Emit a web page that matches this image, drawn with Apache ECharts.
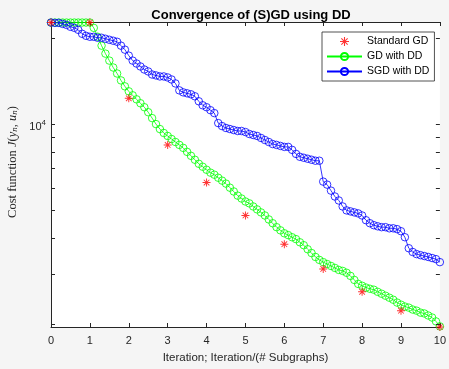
<!DOCTYPE html>
<html>
<head>
<meta charset="utf-8">
<script src="https://cdn.jsdelivr.net/npm/echarts@6/dist/echarts.min.js"></script>
<style>
  html, body { margin: 0; padding: 0; background: #f5f5f5; }
  #chart { width: 449px; height: 369px; }
</style>
</head>
<body>
<div id="chart"></div>
<script>
// iteration grid (0, 0.1, ... 10) for the DD runs
const iterations = Array.from({ length: 101 }, (_, i) => +(i / 10).toFixed(1))
const stdIterations = [0, 1, 2, 3, 4, 5, 6, 7, 8, 9, 10]

const standardGD = [22600, 22600, 12300, 8460, 6250, 4800, 3810, 3125, 2600, 2235, 1960]

const gdWithDD = [
  22600, 22600, 22600, 22600, 22600, 22600, 22600, 22600, 22600, 22600,
  22600, 21660, 20160, 18770, 17610, 16650, 15750, 15010, 14200, 13540,
  13010, 12600, 12200, 11820, 11450, 11000, 10490, 10000, 9610, 9310,
  9090, 8870, 8660, 8460, 8260, 8000, 7750, 7510, 7270, 7100,
  6930, 6770, 6660, 6500, 6350, 6200, 6000, 5820, 5630, 5500,
  5370, 5290, 5160, 5040, 4920, 4800, 4650, 4510, 4370, 4260,
  4160, 4100, 4030, 3970, 3870, 3780, 3660, 3550, 3440, 3360,
  3300, 3250, 3200, 3150, 3100, 3075, 3030, 2955, 2860, 2770,
  2730, 2690, 2665, 2645, 2600, 2560, 2520, 2480, 2440, 2385,
  2345, 2310, 2290, 2255, 2235, 2200, 2185, 2150, 2115, 2050,
  1970
]

const sgdWithDD = [
  22600, 22540, 22540, 22360, 22180, 21840, 21660, 21320, 20650, 20320,
  20160, 20160, 20000, 20000, 19840, 19680, 19530, 19370, 18770, 18180,
  17330, 16650, 16260, 15880, 15500, 15260, 14890, 14780, 14660, 14660,
  14540, 14310, 13860, 13110, 12900, 12800, 12700, 12500, 12010, 11630,
  11450, 11180, 10920, 10080, 9840, 9690, 9610, 9530, 9460, 9460,
  9380, 9235, 9160, 9090, 8945, 8800, 8660, 8520, 8460, 8390,
  8325, 8325, 8130, 7870, 7690, 7630, 7570, 7510, 7450, 7450,
  6300, 6150, 5860, 5590, 5415, 5160, 5000, 4960, 4920, 4880,
  4800, 4620, 4510, 4440, 4400, 4370, 4370, 4330, 4330, 4300,
  4230, 4030, 3690, 3580, 3520, 3490, 3465, 3440, 3410, 3380,
  3300
]

const yTicks = [2000, 3000, 4000, 5000, 6000, 7000, 8000, 9000, 10000, 20000]
const yMin = 1960
const yMax = 22700

const axisColor = '#262626'
const sans = 'Liberation Sans, Arial, Helvetica, sans-serif'
const serif = 'Liberation Serif, Times New Roman, serif'

// MATLAB style '*' marker
const starPath = 'path://M4.4 0L5.6 0L5.6 10L4.4 10Z M0 4.4L10 4.4L10 5.6L0 5.6Z M1.1 1.9L1.9 1.1L8.9 8.1L8.1 8.9Z M8.1 1.1L8.9 1.9L1.9 8.9L1.1 8.1Z'

const chart = echarts.init(document.getElementById('chart'))

const baseX = {
  type: 'value',
  min: 0,
  max: 10,
  interval: 1,
  splitLine: { show: false },
  axisLine: { show: true, onZero: false, lineStyle: { color: axisColor, width: 1 } },
  axisTick: { show: true, inside: true, length: 4, lineStyle: { color: axisColor } }
}

chart.setOption({
  animation: false,
  title: {
    text: 'Convergence of (S)GD using DD',
    left: 246,
    top: 4,
    textAlign: 'center',
    textStyle: { fontFamily: sans, fontSize: 13, fontWeight: 'bold', color: '#000' }
  },
  legend: {
    data: ['Standard GD', 'GD with DD', 'SGD with DD'],
    orient: 'vertical',
    left: 322,
    top: 32,
    itemWidth: 35,
    itemHeight: 9,
    itemGap: 4,
    padding: [4, 5, 4, 4],
    borderColor: axisColor,
    borderWidth: 0.8,
    backgroundColor: '#fff',
    textStyle: { fontFamily: sans, fontSize: 10.5, color: '#000' }
  },
  grid: {
    left: 51,
    right: 7,
    top: 22,
    bottom: 40,
    show: true,
    backgroundColor: '#fff',
    borderWidth: 0
  },
  xAxis: [
    Object.assign({}, baseX, {
      position: 'bottom',
      name: 'Iteration; Iteration/(# Subgraphs)',
      nameLocation: 'middle',
      nameGap: 25,
      nameTextStyle: { fontFamily: sans, fontSize: 11.5, color: axisColor },
      axisLabel: { fontFamily: sans, fontSize: 11, color: axisColor, margin: 8 }
    }),
    Object.assign({}, baseX, {
      position: 'top',
      axisLabel: { show: false }
    })
  ],
  yAxis: [
    {
      type: 'log',
      logBase: 10,
      min: yMin,
      max: yMax,
      position: 'left',
      splitLine: { show: false },
      axisLabel: { show: false },
      axisTick: { show: false },
      axisLine: { show: true, lineStyle: { color: axisColor, width: 1 } }
    },
    {
      type: 'log',
      logBase: 10,
      min: yMin,
      max: yMax,
      position: 'right',
      splitLine: { show: false },
      axisLabel: { show: false },
      axisTick: { show: false },
      axisLine: { show: true, lineStyle: { color: axisColor, width: 1 } }
    }
  ],
  graphic: [
    {
      type: 'text',
      x: 13,
      y: 162,
      rotation: Math.PI / 2,
      style: {
        text: '{r|Cost function }{i|J}{r|(}{i|y}{s|n}{r|, }{i|u}{s|n}{r|)}',
        align: 'center',
        verticalAlign: 'middle',
        fill: axisColor,
        rich: {
          r: { fontFamily: serif, fontSize: 12.5, fill: axisColor },
          i: { fontFamily: serif, fontSize: 12.5, fontStyle: 'italic', fill: axisColor },
          s: { fontFamily: serif, fontSize: 9, fontStyle: 'italic', fill: axisColor, padding: [4, 0, 0, 0] }
        }
      }
    }
  ],
  series: [
    {
      name: 'GD with DD',
      type: 'line',
      data: iterations.map((x, i) => [x, gdWithDD[i]]),
      symbol: 'circle',
      symbolSize: 7.5,
      showAllSymbol: true,
      lineStyle: { color: '#00ff00', width: 0.8 },
      itemStyle: { color: 'rgba(0,255,0,0)', borderColor: '#00ff00', borderWidth: 0.8 },
      z: 3
    },
    {
      name: 'SGD with DD',
      type: 'line',
      data: iterations.map((x, i) => [x, sgdWithDD[i]]),
      symbol: 'circle',
      symbolSize: 7.5,
      showAllSymbol: true,
      lineStyle: { color: '#0000ff', width: 0.8 },
      itemStyle: { color: 'rgba(0,0,255,0)', borderColor: '#0000ff', borderWidth: 0.8 },
      z: 4
    },
    {
      name: 'Standard GD',
      type: 'scatter',
      data: stdIterations.map((x, i) => [x, standardGD[i]]),
      symbol: starPath,
      symbolSize: 8,
      itemStyle: { color: '#ff0000' },
      z: 5
    },
    {
      name: 'yticks',
      type: 'custom',
      silent: true,
      clip: false,
      z: 10,
      data: yTicks.map(v => [0, v]),
      renderItem: (params, api) => {
        const v = api.value(1)
        const a = api.coord([0, v])
        const b = api.coord([10, v])
        const y = Math.round(a[1]) + 0.5
        const children = [
          { type: 'line', shape: { x1: a[0], y1: y, x2: a[0] + 4, y2: y }, style: { stroke: axisColor, lineWidth: 1 } },
          { type: 'line', shape: { x1: b[0] - 4, y1: y, x2: b[0], y2: y }, style: { stroke: axisColor, lineWidth: 1 } }
        ]
        if (v === 10000) {
          children.push({
            type: 'text',
            x: a[0] - 5,
            y: y + 2,
            style: {
              text: '{b|10}{s|4}',
              align: 'right',
              verticalAlign: 'middle',
              rich: {
                b: { fontFamily: sans, fontSize: 11, fill: axisColor },
                s: { fontFamily: sans, fontSize: 8, fill: axisColor, padding: [0, 0, 8, 0] }
              }
            }
          })
        }
        return { type: 'group', children }
      }
    }
  ]
})
</script>
</body>
</html>
